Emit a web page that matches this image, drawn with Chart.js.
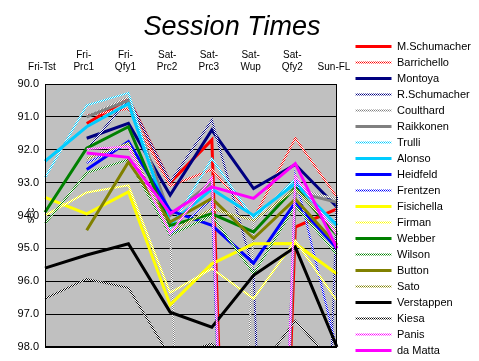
<!DOCTYPE html>
<html>
<head>
<meta charset="utf-8">
<script src="https://cdn.jsdelivr.net/npm/chart.js@4.4.1/dist/chart.umd.min.js"></script>
<style>
html,body{margin:0;padding:0;background:#fff;}
canvas{display:block;}
</style>
</head>
<body>
<canvas id="c" width="479" height="361"></canvas>
<script>
// ---- data ----
const sessions = ["Fri-Tst", ["Fri-","Prc1"], ["Fri-","Qfy1"], ["Sat-","Prc2"], ["Sat-","Prc3"], ["Sat-","Wup"], ["Sat-","Qfy2"], "Sun-FL"];
const yTicks = [90, 91, 92, 93, 94, 95, 96, 97, 98];
const drivers = ["M.Schumacher","Barrichello","Montoya","R.Schumacher","Coulthard","Raikkonen","Trulli","Alonso","Heidfeld","Frentzen","Fisichella","Firman","Webber","Wilson","Button","Sato","Verstappen","Kiesa","Panis","da Matta"];
// null = did not run; 130 = very slow / no representative lap (off the scale)
const mSchumacher = [null, 91.20, 90.45, 93.00, 91.70, 130, 94.35, 93.80];
const barrichello = [null, 90.95, 90.75, 93.10, 92.60, 94.10, 91.65, 93.45];
const montoya     = [null, 91.65, 91.20, 93.38, 91.40, 93.18, 92.45, 93.74];
const rSchumacher = [null, 92.00, 90.45, 92.98, 91.10, 95.70, 130, 93.40];
const coulthard   = [null, 91.00, 90.40, 94.50, 130, 94.20, 93.20, 93.50];
const raikkonen   = [null, 91.00, 90.50, 94.00, 92.98, 130, 93.28, 93.60];
const trulli      = [92.85, 90.65, 90.27, 94.40, 92.27, 94.10, 92.90, 94.50];
const alonso      = [92.35, 91.30, 90.60, 94.25, 93.20, 94.00, 93.03, 94.30];
const heidfeld    = [null, 92.60, 91.75, 93.85, 94.30, 95.45, 93.60, 95.00];
const frentzen    = [null, 92.40, 91.80, 94.60, 93.50, 130, 92.80, 98.10];
const fisichella  = [93.45, 93.95, 93.28, 96.72, 95.47, 94.86, 94.85, 95.78];
const firman      = [94.00, 93.30, 93.08, 96.35, 95.62, 96.53, 94.76, 96.60];
const webber      = [93.90, 91.95, 91.30, 94.30, 93.95, 94.50, 93.15, 94.60];
const wilson      = [94.25, 92.70, 92.30, 94.60, 94.00, 95.77, 93.70, 95.20];
const button      = [null, 94.45, 92.37, 94.20, 93.48, 94.70, 93.50, 94.90];
const sato        = [null, 92.27, 91.80, 94.50, 93.80, 94.15, 93.20, 94.50];
const verstappen  = [95.60, 95.20, 94.86, 96.94, 97.40, 95.82, 94.96, 98.00];
const kiesa       = [96.53, 95.93, 96.20, 98.30, 97.90, 98.90, 97.20, 98.60];
const panis       = [null, 91.98, 91.90, 94.55, 92.85, 130, 92.80, 94.60];
const daMatta     = [null, 92.10, 92.23, 93.94, 93.13, 93.48, 92.42, 95.00];

const seriesValues = [mSchumacher, barrichello, montoya, rSchumacher, coulthard, raikkonen, trulli, alonso, heidfeld, frentzen, fisichella, firman, webber, wilson, button, sato, verstappen, kiesa, panis, daMatta];
const seriesColors = ["#FF0000","#FF0000","#000080","#000080","#808080","#808080","#00CCFF","#00CCFF","#0000FF","#0000FF","#FFFF00","#FFFF00","#008000","#008000","#808000","#808000","#000000","#000000","#FF00FF","#FF00FF"];
const seriesDotted = [false,true,false,true,true,false,true,false,false,true,false,true,false,true,false,true,false,true,true,false];

// ---- styling helpers ----
const FONT = "'Liberation Sans', Arial, sans-serif";
function dottedPattern(color){
  const c = document.createElement('canvas');
  c.width = 2; c.height = 2;
  const g = c.getContext('2d');
  g.fillStyle = '#FFFFFF'; g.fillRect(0,0,2,2);
  g.fillStyle = color; g.fillRect(0,0,1,1); g.fillRect(1,1,1,1);
  return g.createPattern(c, 'repeat');
}

const datasets = drivers.map((name, i) => {
  const col = seriesDotted[i] ? dottedPattern(seriesColors[i]) : seriesColors[i];
  return {
    label: name,
    data: seriesValues[i],
    borderColor: col,
    backgroundColor: col,
    borderWidth: seriesDotted[i] ? 2 : 3,
    pointRadius: 0,
    pointHoverRadius: 0,
    tension: 0,
    fill: false,
    order: drivers.length - i,
    xAxisID: 'x',
    yAxisID: 'y'
  };
});

const plotBg = {
  id: 'plotBg',
  beforeDraw(chart){
    const {ctx, chartArea: a} = chart;
    ctx.save();
    ctx.fillStyle = '#FFFFFF';
    ctx.fillRect(0, 0, chart.width, chart.height);
    ctx.fillStyle = '#C0C0C0';
    ctx.fillRect(a.left, a.top, a.right - a.left, a.bottom - a.top);
    ctx.restore();
  },
  afterDatasetsDraw(chart){
    const {ctx, chartArea: a} = chart;
    ctx.save();
    ctx.strokeStyle = '#000000';
    ctx.lineWidth = 1;
    ctx.strokeRect(Math.round(a.left) + 0.5, Math.round(a.top) + 0.5, Math.round(a.right - a.left) - 1, Math.round(a.bottom - a.top) - 1);
    ctx.restore();
  }
};

const TITLE_PAD_TOP = 14, TITLE_SIZE = 27, LEFT_SHIFT = 15;

new Chart(document.getElementById('c'), {
  type: 'line',
  data: { labels: sessions, datasets },
  options: {
    responsive: false,
    animation: false,
    devicePixelRatio: 1,
    events: [],
    layout: { padding: { left: -LEFT_SHIFT, right: 0, top: 0, bottom: 0 } },
    plugins: {
      title: {
        display: true,
        text: 'Session Times',
        color: '#000000',
        font: { family: FONT, size: TITLE_SIZE, style: 'italic', weight: 'normal', lineHeight: 1 },
        padding: { top: TITLE_PAD_TOP, bottom: 0 }
      },
      legend: {
        position: 'right',
        align: 'end',
        maxWidth: 128.5,
        labels: {
          usePointStyle: true,
          pointStyle: 'line',
          pointStyleWidth: 36,
          color: '#000000',
          font: { family: FONT, size: 11 },
          padding: 5,
          sort: (a, b) => a.datasetIndex - b.datasetIndex
        }
      },
      tooltip: { enabled: false }
    },
    scales: {
      x: {
        type: 'category',
        position: 'top',
        offset: false,
        grid: { display: false, drawTicks: false },
        border: { display: false },
        ticks: { color: '#000000', font: { family: FONT, size: 10 }, padding: 11, maxRotation: 0, minRotation: 0, autoSkip: false, labelOffset: -3 },
        afterFit: s => { s.height = 84 - (TITLE_PAD_TOP + TITLE_SIZE); }
      },
      x2: {
        type: 'category',
        position: 'bottom',
        grid: { display: false, drawTicks: false },
        border: { display: false },
        ticks: { display: false },
        afterFit: s => { s.height = 14; }
      },
      y: {
        type: 'linear',
        position: 'left',
        reverse: true,
        min: 90,
        max: 98,
        afterBuildTicks: s => { s.ticks = yTicks.map(v => ({ value: v })); },
        ticks: { color: '#000000', font: { family: FONT, size: 11 }, padding: 6, callback: v => Number(v).toFixed(1) },
        grid: { color: '#000000', lineWidth: 1, drawTicks: false },
        border: { display: false },
        title: { display: true, text: 'sec', color: '#000000', font: { family: FONT, size: 10 }, padding: { top: 25 + LEFT_SHIFT, bottom: 0 } },
        afterFit: s => { s.width = 45 + LEFT_SHIFT; }
      },
      y2: {
        type: 'linear',
        position: 'right',
        grid: { display: false, drawTicks: false },
        border: { display: false },
        ticks: { display: false },
        afterFit: s => { s.width = 13.5; }
      }
    }
  },
  plugins: [plotBg]
});
</script>
</body>
</html>
